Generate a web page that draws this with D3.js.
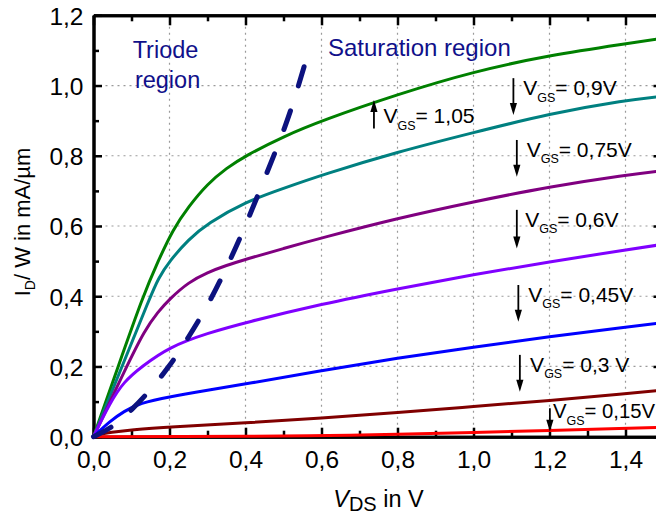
<!DOCTYPE html>
<html><head><meta charset="utf-8">
<script src="https://cdn.jsdelivr.net/npm/d3@7"></script>
<style>
body{margin:0;background:#fff}
svg{display:block}
text{font-family:"Liberation Sans",Arial,Helvetica,sans-serif}
</style>
</head><body>
<svg id="chart" width="656" height="517"></svg>
<script>
// ---------------- data ----------------
const xTickValues = [0, 0.2, 0.4, 0.6, 0.8, 1.0, 1.2, 1.4];
const xTickLabels = ["0,0","0,2","0,4","0,6","0,8","1,0","1,2","1,4"];
const yTickValues = [0, 0.2, 0.4, 0.6, 0.8, 1.0, 1.2];
const yTickLabels = ["0,0","0,2","0,4","0,6","0,8","1,0","1,2"];

const vgsNames = ["1,05", "0,9", "0,75", "0,6", "0,45", "0,3", "0,15"];
const vgsColors = ["#008000", "#008080", "#800080", "#8000ff", "#0000ff", "#800000", "#ff0000"];

const curveVgs105 = [[0,0],[0.065,0.2],[0.13,0.4],[0.17,0.5],[0.209,0.59],[0.25,0.655],[0.3,0.72],[0.35,0.765],[0.4,0.8],[0.5,0.855],[0.6,0.9],[0.8,0.975],[1.0,1.04],[1.2,1.086],[1.4,1.119],[1.5,1.135]];
const curveVgs090 = [[0,0],[0.075,0.2],[0.15,0.4],[0.17,0.45],[0.2,0.5],[0.25,0.562],[0.3,0.607],[0.4,0.669],[0.5,0.707],[0.6,0.745],[0.8,0.811],[1.0,0.866],[1.2,0.92],[1.4,0.958],[1.5,0.97]];
const curveVgs075 = [[0,0],[0.087,0.2],[0.135,0.304],[0.17,0.356],[0.2,0.392],[0.25,0.44],[0.3,0.468],[0.35,0.488],[0.4,0.505],[0.5,0.536],[0.6,0.566],[0.8,0.622],[1.0,0.669],[1.2,0.712],[1.4,0.745],[1.5,0.758]];
const curveVgs060 = [[0,0],[0.043,0.096],[0.08,0.157],[0.127,0.2],[0.2,0.256],[0.3,0.295],[0.4,0.325],[0.6,0.378],[0.8,0.421],[1.0,0.462],[1.2,0.498],[1.4,0.532],[1.5,0.548]];
const curveVgs045 = [[0,0],[0.043,0.044],[0.08,0.072],[0.122,0.096],[0.2,0.114],[0.3,0.132],[0.4,0.15],[0.6,0.188],[0.8,0.224],[1.0,0.255],[1.2,0.285],[1.4,0.312],[1.5,0.325]];
const curveVgs030 = [[0,0],[0.02,0.008],[0.043,0.012],[0.1,0.02],[0.2,0.028],[0.4,0.039],[0.6,0.053],[0.8,0.069],[1.0,0.086],[1.2,0.103],[1.4,0.122],[1.5,0.133]];
const curveVgs015 = [[0,0],[0.2,0.0005],[0.6,0.002],[0.8,0.007],[1.0,0.012],[1.2,0.018],[1.4,0.024],[1.5,0.027]];

const saturationBoundary = [[0,0],[0.05,0.026],[0.1,0.076],[0.143,0.124],[0.2,0.2],[0.25,0.283],[0.3,0.372],[0.35,0.48],[0.4,0.6],[0.45,0.735],[0.5,0.868],[0.53,0.965],[0.56,1.075]];

const annotationTexts = ["= 1,05", "= 0,9V", "= 0,75V", "= 0,6V", "= 0,45V", "= 0,3 V", "= 0,15V"];

// ---------------- layout ----------------
const W = 656, H = 517;
const svg = d3.select("#chart");
svg.append("rect").attr("width", W).attr("height", H).attr("fill", "#fff");

const x = d3.scaleLinear().domain([0, 1.5]).range([93.5, 663.5]);
const y = d3.scaleLinear().domain([0, 1.2]).range([436.7, 15.3]);

const allCurves = [curveVgs105, curveVgs090, curveVgs075, curveVgs060, curveVgs045, curveVgs030, curveVgs015];

// grid
const gridX = xTickValues.filter(v => v > 0);
const gridY = yTickValues.filter(v => v > 0 && v < 1.2);
svg.append("g").selectAll("line").data(gridX).join("line")
  .attr("x1", d => x(d)).attr("x2", d => x(d))
  .attr("y1", y(0)).attr("y2", y(1.2))
  .attr("stroke", "#9a9a9a").attr("stroke-width", 1.2).attr("stroke-dasharray", "2,4");
svg.append("g").selectAll("line").data(gridY).join("line")
  .attr("y1", d => y(d)).attr("y2", d => y(d))
  .attr("x1", x(0)).attr("x2", x(1.5))
  .attr("stroke", "#9a9a9a").attr("stroke-width", 1.2).attr("stroke-dasharray", "2,4");

// axes (ticks inside)
const xMinor = d3.range(1, 15, 2).map(i => i / 10);
const yMinor = d3.range(1, 12, 2).map(i => i / 10);

const bottom = svg.append("g").attr("transform", `translate(0,${y(0)})`)
  .call(d3.axisBottom(x).tickValues(xTickValues).tickSize(-9).tickSizeOuter(0)
        .tickFormat((d, i) => xTickLabels[i]));
bottom.selectAll(".tick text").attr("y", 31.5).attr("dy", null)
  .attr("font-size", 24.5).attr("fill", "#000").attr("font-family", '"Liberation Sans",Arial,sans-serif');
const bottomMinor = svg.append("g").attr("transform", `translate(0,${y(0)})`)
  .call(d3.axisBottom(x).tickValues(xMinor).tickSize(-6).tickSizeOuter(0).tickFormat(""));

const topAx = svg.append("g").attr("transform", `translate(0,${y(1.2)})`)
  .call(d3.axisTop(x).tickValues(xTickValues.concat([1.5])).tickSize(-10).tickSizeOuter(0).tickFormat(""));
const topMinor = svg.append("g").attr("transform", `translate(0,${y(1.2)})`)
  .call(d3.axisTop(x).tickValues(xMinor).tickSize(-6).tickSizeOuter(0).tickFormat(""));

const left = svg.append("g").attr("transform", `translate(${x(0)},0)`)
  .call(d3.axisLeft(y).tickValues(yTickValues).tickSize(-8.5).tickSizeOuter(0)
        .tickFormat((d, i) => yTickLabels[i]));
left.selectAll(".tick text").attr("x", -10).attr("dy", "0.36em")
  .attr("font-size", 24.5).attr("fill", "#000").attr("font-family", '"Liberation Sans",Arial,sans-serif');
const leftMinor = svg.append("g").attr("transform", `translate(${x(0)},0)`)
  .call(d3.axisLeft(y).tickValues(yMinor).tickSize(-5.5).tickSizeOuter(0).tickFormat(""));

const rightAx = svg.append("g").attr("transform", `translate(${x(1.5)},0)`)
  .call(d3.axisRight(y).tickValues(yTickValues).tickSize(-10).tickSizeOuter(0).tickFormat(""));
const rightMinor = svg.append("g").attr("transform", `translate(${x(1.5)},0)`)
  .call(d3.axisRight(y).tickValues(yMinor).tickSize(-6).tickSizeOuter(0).tickFormat(""));

[bottom, bottomMinor, topAx, topMinor, left, leftMinor, rightAx, rightMinor].forEach(g => {
  g.select(".domain").attr("stroke", "#000").attr("stroke-width", 3);
  g.selectAll(".tick line").attr("stroke", "#000").attr("stroke-width", 2.5);
});

// curves
const line = d3.line().x(d => x(d[0])).y(d => y(d[1])).curve(d3.curveBasis);
svg.append("g").selectAll("path").data(allCurves).join("path")
  .attr("d", line)
  .attr("fill", "none")
  .attr("stroke", (d, i) => vgsColors[i])
  .attr("stroke-width", 3)
  .attr("stroke-linejoin", "round");

// saturation boundary (dashed)
svg.append("path").datum(saturationBoundary)
  .attr("d", line)
  .attr("fill", "none")
  .attr("stroke", "#0c127f")
  .attr("stroke-width", 5)
  .attr("stroke-dasharray", "20,26")
  .attr("stroke-linecap", "round");

// region labels
const navy = "#10108a";
svg.append("text").attr("x", x(0.103)).attr("y", y(1.078)).attr("fill", navy).attr("font-size", 23.5).text("Triode");
svg.append("text").attr("x", x(0.109)).attr("y", y(0.992)).attr("fill", navy).attr("font-size", 23.5).text("region");
svg.append("text").attr("x", x(0.617)).attr("y", y(1.084)).attr("fill", navy).attr("font-size", 24).text("Saturation region");

// VGS annotations (arrow + label), placement in data units
const annotLayout = [
  {ax: 0.738, tail: 0.878, tip: 0.959, tx: 0.763, ty: 0.892, fs: 21},
  {ax: 1.105, tail: 1.021, tip: 0.916, tx: 1.131, ty: 0.973, fs: 21},
  {ax: 1.114, tail: 0.845, tip: 0.740, tx: 1.140, ty: 0.797, fs: 21},
  {ax: 1.114, tail: 0.646, tip: 0.536, tx: 1.136, ty: 0.598, fs: 21},
  {ax: 1.118, tail: 0.432, tip: 0.327, tx: 1.144, ty: 0.384, fs: 21},
  {ax: 1.122, tail: 0.233, tip: 0.128, tx: 1.149, ty: 0.185, fs: 21},
  {ax: 1.201, tail: 0.081, tip: 0.014, tx: 1.209, ty: 0.052, fs: 20.3}
];
const ag = svg.append("g");
annotLayout.forEach((a, i) => {
  const X = x(a.ax), Yt = y(a.tail), Yp = y(a.tip);
  const dir = Yp > Yt ? 1 : -1;
  const headLen = 12, headW = 3.6;
  ag.append("line").attr("x1", X).attr("x2", X).attr("y1", Yt).attr("y2", Yp - dir * headLen * 0.6)
    .attr("stroke", "#000").attr("stroke-width", 1.8);
  ag.append("path")
    .attr("d", `M${X},${Yp} L${X - headW},${Yp - dir * headLen} L${X + headW},${Yp - dir * headLen} Z`)
    .attr("fill", "#000");
  const t = ag.append("text").attr("x", x(a.tx)).attr("y", y(a.ty)).attr("font-size", a.fs).attr("fill", "#000");
  t.append("tspan").text("V");
  t.append("tspan").attr("font-size", 12.5).attr("dy", 6.5).text("GS");
  t.append("tspan").attr("dy", -6.5).text(annotationTexts[i]);
});

// axis titles
const xt = svg.append("text").attr("x", x(0.75)).attr("y", 507).attr("text-anchor", "middle")
  .attr("font-size", 23.5).attr("fill", "#000");
xt.append("tspan").attr("font-style", "italic").text("V");
xt.append("tspan").attr("font-size", 20).attr("dy", 4).text("DS");
xt.append("tspan").attr("dy", -4).text(" in V");

const yt = svg.append("text").attr("transform", `translate(30,${(y(0) + y(1.2)) / 2 - 4}) rotate(-90)`)
  .attr("text-anchor", "middle").attr("font-size", 22).attr("fill", "#000");
yt.append("tspan").text("I");
yt.append("tspan").attr("font-size", 14).attr("dy", 5).text("D");
yt.append("tspan").attr("dy", -5).text("/ W in mA/µm");
</script>
</body></html>
